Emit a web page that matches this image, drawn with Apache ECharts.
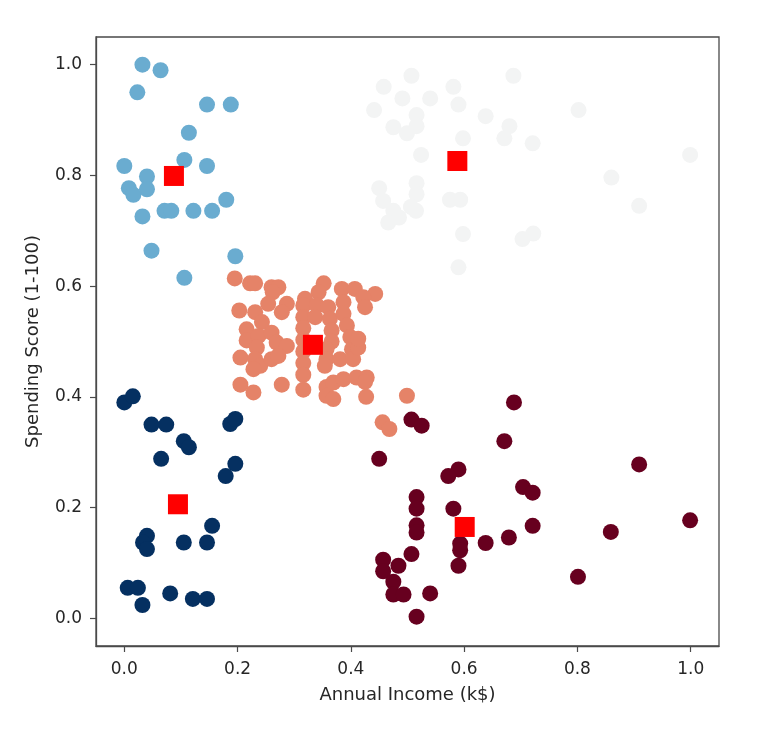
<!DOCTYPE html>
<html>
<head>
<meta charset="utf-8">
<script src="https://cdn.jsdelivr.net/npm/echarts@6/dist/echarts.min.js"></script>
<style>
  html, body { margin: 0; padding: 0; background: #fff; }
  #chart { width: 762px; height: 734px; }
</style>
</head>
<body>
<div id="chart"></div>
<script>
// cluster points, [annual income, spending score], both scaled 0..1
const highSpendLowIncome = [
  [0.032, 1.0], [0.064, 0.99], [0.023, 0.95], [0.146, 0.928], [0.188, 0.928],
  [0.114, 0.877], [0.106, 0.828], [0.0, 0.817], [0.146, 0.817], [0.04, 0.798],
  [0.008, 0.777], [0.04, 0.775], [0.016, 0.765], [0.18, 0.756], [0.071, 0.736],
  [0.083, 0.736], [0.122, 0.736], [0.155, 0.736], [0.032, 0.726], [0.048, 0.664],
  [0.196, 0.654], [0.106, 0.615]
];
const highSpendHighIncome = [
  [0.507, 0.98], [0.687, 0.98], [0.458, 0.96], [0.581, 0.96], [0.491, 0.939],
  [0.54, 0.939], [0.59, 0.928], [0.441, 0.918], [0.802, 0.918], [0.516, 0.909],
  [0.638, 0.907], [0.475, 0.887], [0.516, 0.889], [0.68, 0.889], [0.499, 0.876],
  [0.671, 0.867], [0.598, 0.867], [0.721, 0.858], [0.524, 0.837], [0.999, 0.837],
  [0.86, 0.796], [0.45, 0.777], [0.516, 0.786], [0.516, 0.766], [0.457, 0.754],
  [0.909, 0.745], [0.575, 0.756], [0.593, 0.756], [0.475, 0.736], [0.506, 0.743],
  [0.515, 0.736], [0.485, 0.724], [0.466, 0.715], [0.598, 0.694], [0.722, 0.695],
  [0.703, 0.685], [0.59, 0.634]
];
const average = [
  [0.195, 0.614], [0.222, 0.605], [0.231, 0.605], [0.26, 0.598], [0.272, 0.598],
  [0.262, 0.589], [0.352, 0.605], [0.384, 0.595], [0.407, 0.595], [0.343, 0.589],
  [0.443, 0.586], [0.319, 0.577], [0.422, 0.58], [0.425, 0.562], [0.254, 0.568],
  [0.287, 0.568], [0.203, 0.556], [0.231, 0.553], [0.278, 0.553], [0.243, 0.535],
  [0.316, 0.565], [0.316, 0.544], [0.316, 0.524], [0.316, 0.503], [0.316, 0.482],
  [0.316, 0.461], [0.316, 0.44], [0.316, 0.413], [0.34, 0.565], [0.337, 0.544],
  [0.36, 0.562], [0.363, 0.541], [0.366, 0.52], [0.366, 0.5], [0.387, 0.571],
  [0.387, 0.55], [0.393, 0.529], [0.399, 0.508], [0.402, 0.486], [0.216, 0.522],
  [0.216, 0.502], [0.237, 0.51], [0.234, 0.489], [0.26, 0.516], [0.269, 0.498],
  [0.287, 0.492], [0.205, 0.471], [0.231, 0.468], [0.24, 0.456], [0.228, 0.45],
  [0.26, 0.468], [0.272, 0.474], [0.357, 0.486], [0.357, 0.468], [0.354, 0.456],
  [0.381, 0.468], [0.404, 0.468], [0.413, 0.489], [0.413, 0.505], [0.205, 0.422],
  [0.228, 0.408], [0.278, 0.422], [0.357, 0.418], [0.369, 0.426], [0.387, 0.432],
  [0.41, 0.435], [0.428, 0.435], [0.425, 0.427], [0.357, 0.402], [0.369, 0.396],
  [0.427, 0.4], [0.499, 0.402], [0.456, 0.354], [0.468, 0.342]
];
const lowSpendLowIncome = [
  [0.0, 0.39], [0.015, 0.401], [0.048, 0.35], [0.074, 0.35], [0.105, 0.32],
  [0.114, 0.309], [0.065, 0.288], [0.187, 0.351], [0.196, 0.36], [0.196, 0.279],
  [0.179, 0.257], [0.04, 0.149], [0.033, 0.137], [0.04, 0.125], [0.105, 0.137],
  [0.146, 0.137], [0.155, 0.167], [0.006, 0.055], [0.024, 0.055], [0.032, 0.024],
  [0.081, 0.045], [0.121, 0.035], [0.146, 0.035]
];
const lowSpendHighIncome = [
  [0.688, 0.39], [0.507, 0.359], [0.525, 0.348], [0.671, 0.32], [0.45, 0.288],
  [0.909, 0.278], [0.59, 0.269], [0.572, 0.257], [0.704, 0.237], [0.721, 0.227],
  [0.516, 0.219], [0.516, 0.198], [0.581, 0.198], [0.999, 0.177], [0.516, 0.168],
  [0.516, 0.155], [0.721, 0.167], [0.859, 0.156], [0.679, 0.146], [0.638, 0.136],
  [0.593, 0.135], [0.593, 0.123], [0.507, 0.116], [0.457, 0.106], [0.484, 0.095],
  [0.59, 0.095], [0.457, 0.085], [0.475, 0.066], [0.801, 0.075], [0.475, 0.043],
  [0.493, 0.043], [0.54, 0.045], [0.516, 0.003]
];
const centroids = [
  [0.0876, 0.799], [0.588, 0.826], [0.333, 0.494], [0.0947, 0.206], [0.601, 0.165]
];
const tickValues = [0, 0.2, 0.4, 0.6, 0.8, 1.0];

const textColor = "#262626";
const spineColor = "#4a4a4a";

const chart = echarts.init(document.getElementById("chart"));

const pointSeries = (data, color) => ({
  type: "scatter",
  data: data,
  symbol: "circle",
  symbolSize: 16,
  itemStyle: { color: color, opacity: 1 },
  animation: false,
  silent: true
});

const axisBase = {
  type: "value",
  min: -0.05,
  max: 1.05,
  nameLocation: "middle",
  nameTextStyle: { fontFamily: "DejaVu Sans", fontSize: 18, color: textColor },
  splitLine: { show: false },
  axisLine: { show: true, onZero: false, lineStyle: { color: spineColor, width: 1.3 } },
  axisTick: {
    show: true,
    customValues: tickValues,
    length: 6,
    lineStyle: { color: spineColor, width: 1.2 }
  },
  axisLabel: {
    customValues: tickValues,
    fontFamily: "DejaVu Sans",
    fontSize: 17,
    color: textColor,
    formatter: v => v.toFixed(1)
  }
};

chart.setOption({
  backgroundColor: "#fff",
  grid: {
    left: 96, right: 43, top: 37, bottom: 88,
    show: true,
    borderColor: spineColor,
    borderWidth: 1.3
  },
  xAxis: Object.assign({}, axisBase, {
    name: "Annual Income (k$)",
    nameGap: 40,
    axisLabel: Object.assign({}, axisBase.axisLabel, { margin: 15 })
  }),
  yAxis: Object.assign({}, axisBase, {
    name: "Spending Score (1-100)",
    nameGap: 54,
    nameRotate: 90,
    axisLabel: Object.assign({}, axisBase.axisLabel, { margin: 14 })
  }),
  series: [
    pointSeries(lowSpendHighIncome, "#67001f"),
    pointSeries(average, "#e58368"),
    pointSeries(highSpendHighIncome, "#f3f4f4"),
    pointSeries(highSpendLowIncome, "#6aacd0"),
    pointSeries(lowSpendLowIncome, "#053061"),
    {
      type: "scatter",
      data: centroids,
      symbol: "rect",
      symbolSize: 20,
      itemStyle: { color: "#ff0000", opacity: 1 },
      z: 5,
      animation: false,
      silent: true
    }
  ]
});
</script>
</body>
</html>
